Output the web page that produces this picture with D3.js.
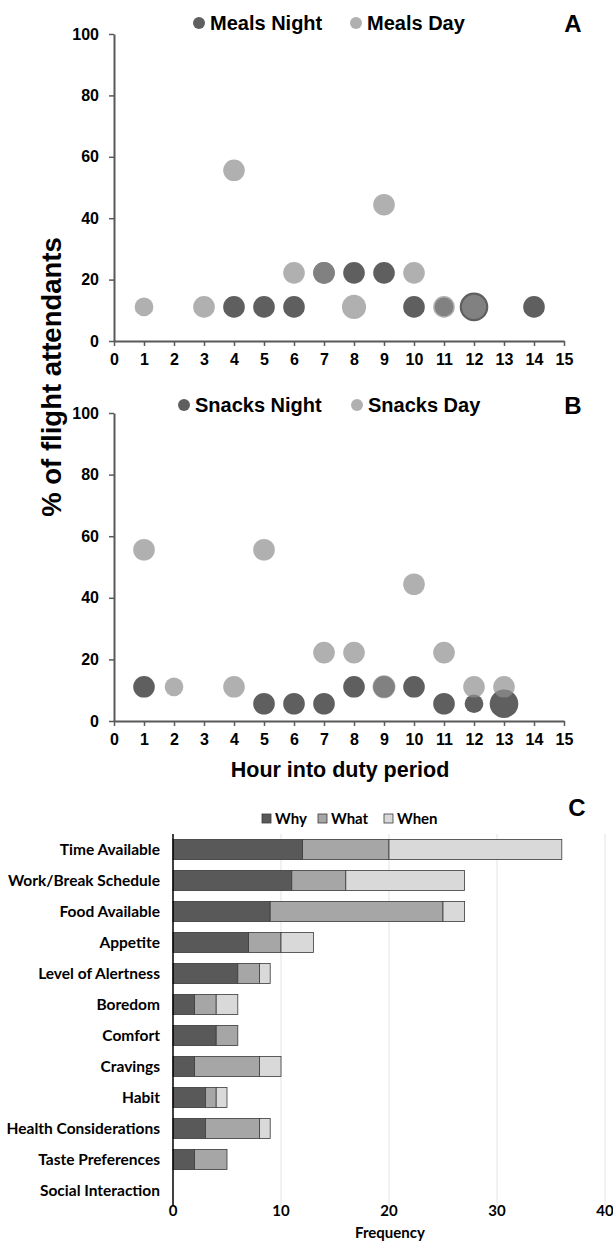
<!DOCTYPE html>
<html>
<head>
<meta charset="utf-8">
<script src="https://cdn.jsdelivr.net/npm/d3@7"></script>
<style>
    body { margin: 0; background: #fff; }
    .ax text { font-family: "Liberation Sans", Arial, sans-serif; font-weight: bold; font-size: 16px; fill: #000; }
    .ax path, .ax line { stroke: #595959; }
</style>
</head>
<body>
<div id="chart"></div>
<script>

// panel A - meals
const mealsNightHour = [4, 5, 6, 7, 8, 9, 10, 11, 12, 14]
const mealsNightPct  = [11.1, 11.1, 11.1, 22.2, 22.2, 22.2, 11.1, 11.1, 11.1, 11.1]
const mealsNightSize = [4, 4, 4, 4, 4, 4, 4, 3, 7, 4]
const mealsDayHour = [1, 3, 4, 6, 7, 8, 9, 10, 11, 12]
const mealsDayPct  = [11.1, 11.1, 55.6, 22.2, 22.2, 11.1, 44.4, 22.2, 11.1, 11.1]
const mealsDaySize = [3, 4, 4, 4, 4, 5, 4, 4, 4, 5]

// panel B - snacks
const snacksNightHour = [1, 5, 6, 7, 8, 9, 10, 11, 12, 13]
const snacksNightPct  = [11.1, 5.6, 5.6, 5.6, 11.1, 11.1, 11.1, 5.6, 5.6, 5.6]
const snacksNightSize = [4, 4, 4, 4, 4, 4, 4, 4, 3, 7]
const snacksDayHour = [1, 2, 4, 5, 7, 8, 9, 10, 11, 12, 13]
const snacksDayPct  = [55.6, 11.1, 11.1, 55.6, 22.2, 22.2, 11.1, 44.4, 22.2, 11.1, 11.1]
const snacksDaySize = [4, 3, 4, 4, 4, 4, 4.5, 4, 4, 4, 4]

const pctTicks = [0, 20, 40, 60, 80, 100]

// panel C - reasons
const reasons = ['Time Available', 'Work/Break Schedule', 'Food Available', 'Appetite',
    'Level of Alertness', 'Boredom', 'Comfort', 'Cravings', 'Habit',
    'Health Considerations', 'Taste Preferences', 'Social Interaction']
const whyCount  = [12, 11, 9, 7, 6, 2, 4, 2, 3, 3, 2, 0]
const whatCount = [8, 5, 16, 3, 2, 2, 2, 6, 1, 5, 3, 0]
const whenCount = [16, 11, 2, 3, 1, 2, 0, 2, 1, 1, 0, 0]
const reasonKeys = ['Why', 'What', 'When']
const freqTicks = [0, 10, 20, 30, 40]

const width = 613
const height = 1241

const svg = d3.select('#chart')
    .append('svg')
    .attr('width', width)
    .attr('height', height)

const boldSans = '"Liberation Sans", Arial, sans-serif'
const nightColor = '#5f5f5f'
const dayColor = '#8e8e8e'
const dayOpacity = 0.7

const defs = svg.append('defs')
defs.append('filter')
    .attr('id', 'soft')
    .append('feGaussianBlur')
    .attr('stdDeviation', 0.6)

const xScale = d3.scaleLinear()
    .domain([0, 15])
    .range([114, 564])

const rScale = d3.scaleSqrt()
    .domain([0, 7])
    .range([0, 14.3])

const toPoints = (hours, pct, size) => hours.map((h, i) => ({ h: h, p: pct[i], s: size[i] }))

const drawScatter = (top, bottom, night, day, names, letter, legend) => {

    const yScale = d3.scaleLinear()
        .domain([0, 100])
        .range([bottom, top])

    const ctr = svg.append('g')

    ctr.append('g')
        .attr('class', 'ax')
        .attr('transform', `translate(0,${bottom})`)
        .call(d3.axisBottom(xScale).ticks(15).tickSize(5).tickSizeOuter(0).tickPadding(8))
        .call(g => g.select('.domain').attr('stroke-width', 2))
        .call(g => g.selectAll('.tick line').attr('stroke-width', 1.5))

    ctr.append('g')
        .attr('class', 'ax')
        .attr('transform', `translate(${xScale(0)},0)`)
        .call(d3.axisLeft(yScale).tickValues(pctTicks).tickSize(5).tickSizeOuter(0).tickPadding(10))
        .call(g => g.select('.domain').attr('stroke-width', 2))
        .call(g => g.selectAll('.tick line').attr('stroke-width', 1.5))

    ctr.append('g')
        .attr('filter', 'url(#soft)')
        .selectAll('circle')
        .data(night)
        .join('circle')
        .attr('cx', (d) => xScale(d.h))
        .attr('cy', (d) => yScale(d.p))
        .attr('r', (d) => rScale(d.s))
        .attr('fill', nightColor)

    ctr.append('g')
        .attr('filter', 'url(#soft)')
        .selectAll('circle')
        .data(day)
        .join('circle')
        .attr('cx', (d) => xScale(d.h))
        .attr('cy', (d) => yScale(d.p))
        .attr('r', (d) => rScale(d.s))
        .attr('fill', dayColor)
        .attr('fill-opacity', dayOpacity)

    // legend
    const leg = ctr.append('g')
    leg.append('circle').attr('cx', legend.x1).attr('cy', legend.y).attr('r', 6).attr('fill', nightColor)
    leg.append('circle').attr('cx', legend.x2).attr('cy', legend.y).attr('r', 6)
        .attr('fill', dayColor).attr('fill-opacity', dayOpacity)
    leg.selectAll('text')
        .data(names)
        .join('text')
        .attr('x', (d, i) => (i == 0 ? legend.x1 : legend.x2) + 11)
        .attr('y', legend.y + 7)
        .style('font-family', boldSans)
        .style('font-weight', 'bold')
        .style('font-size', '20px')
        .text((d) => d)

    ctr.append('text')
        .attr('x', 573)
        .attr('y', legend.y + 9)
        .attr('text-anchor', 'middle')
        .style('font-family', boldSans)
        .style('font-weight', '900')
        .style('font-size', '24px')
        .text(letter)
}

const drawBars = () => {

    const x = d3.scaleLinear()
        .domain([0, 40])
        .range([173, 605])

    const y = d3.scaleBand()
        .domain(reasons)
        .range([834, 1206])
        .paddingInner(0.35)
        .paddingOuter(0.175)

    const colors = d3.scaleOrdinal()
        .domain(reasonKeys)
        .range(['#595959', '#a6a6a6', '#d9d9d9'])

    const table = reasons.map((r, i) => ({ reason: r, Why: whyCount[i], What: whatCount[i], When: whenCount[i] }))
    const stacked = d3.stack().keys(reasonKeys)(table)

    const ctr = svg.append('g')

    ctr.append('g')
        .selectAll('line')
        .data(freqTicks.slice(1))
        .join('line')
        .attr('x1', (d) => x(d))
        .attr('x2', (d) => x(d))
        .attr('y1', 834)
        .attr('y2', 1206)
        .attr('stroke', '#e3e3e3')
        .attr('stroke-width', 1)

    ctr.append('g')
        .selectAll('g')
        .data(stacked)
        .join('g')
        .attr('fill', (d) => colors(d.key))
        .selectAll('rect')
        .data((d) => d.filter((v) => v[1] > v[0]))
        .join('rect')
        .attr('x', (d) => x(d[0]))
        .attr('y', (d) => y(d.data.reason))
        .attr('width', (d) => x(d[1]) - x(d[0]))
        .attr('height', y.bandwidth())
        .attr('stroke', '#3a3a3a')
        .attr('stroke-width', 0.8)

    ctr.append('line')
        .attr('x1', x(0)).attr('x2', x(0))
        .attr('y1', 834).attr('y2', 1206)
        .attr('stroke', '#000')
        .attr('stroke-width', 1.5)

    ctr.append('g')
        .selectAll('text')
        .data(reasons)
        .join('text')
        .attr('x', 160)
        .attr('y', (d) => y(d) + y.bandwidth() / 2 + 5.5)
        .attr('text-anchor', 'end')
        .style('font-family', 'Lato, sans-serif')
        .style('font-weight', 'bold')
        .style('font-size', '15.5px')
        .text((d) => d)

    ctr.append('g')
        .selectAll('text')
        .data(freqTicks)
        .join('text')
        .attr('x', (d) => x(d))
        .attr('y', 1216)
        .attr('text-anchor', 'middle')
        .style('font-family', 'Lato, sans-serif')
        .style('font-weight', 'bold')
        .style('font-size', '15px')
        .text((d) => d)

    ctr.append('text')
        .attr('x', 390)
        .attr('y', 1238)
        .attr('text-anchor', 'middle')
        .style('font-family', 'Lato, sans-serif')
        .style('font-weight', 'bold')
        .style('font-size', '15px')
        .text('Frequency')

    // legend
    const legX = [262, 318, 384]
    const leg = ctr.append('g')
    leg.selectAll('rect')
        .data(reasonKeys)
        .join('rect')
        .attr('x', (d, i) => legX[i])
        .attr('y', 814)
        .attr('width', 9)
        .attr('height', 9)
        .attr('fill', (d) => colors(d))
        .attr('stroke', '#3a3a3a')
        .attr('stroke-width', 0.8)
    leg.selectAll('text')
        .data(reasonKeys)
        .join('text')
        .attr('x', (d, i) => legX[i] + 13)
        .attr('y', 824)
        .style('font-family', 'Lato, sans-serif')
        .style('font-weight', 'bold')
        .style('font-size', '15px')
        .text((d) => d)

    ctr.append('text')
        .attr('x', 577)
        .attr('y', 816)
        .attr('text-anchor', 'middle')
        .style('font-family', boldSans)
        .style('font-weight', '900')
        .style('font-size', '24px')
        .text('C')
}

drawScatter(34, 341,
    toPoints(mealsNightHour, mealsNightPct, mealsNightSize),
    toPoints(mealsDayHour, mealsDayPct, mealsDaySize),
    ['Meals Night', 'Meals Day'], 'A', { x1: 199, x2: 356, y: 23 })

drawScatter(413, 721,
    toPoints(snacksNightHour, snacksNightPct, snacksNightSize),
    toPoints(snacksDayHour, snacksDayPct, snacksDaySize),
    ['Snacks Night', 'Snacks Day'], 'B', { x1: 184, x2: 357, y: 405 })

svg.append('text')
    .attr('transform', 'translate(61,377) rotate(-90)')
    .attr('text-anchor', 'middle')
    .style('font-family', boldSans)
    .style('font-weight', 'bold')
    .style('font-size', '27.5px')
    .text('% of flight attendants')

svg.append('text')
    .attr('x', 340)
    .attr('y', 777)
    .attr('text-anchor', 'middle')
    .style('font-family', boldSans)
    .style('font-weight', 'bold')
    .style('font-size', '21.5px')
    .text('Hour into duty period')

drawBars()

</script>
</body>
</html>
